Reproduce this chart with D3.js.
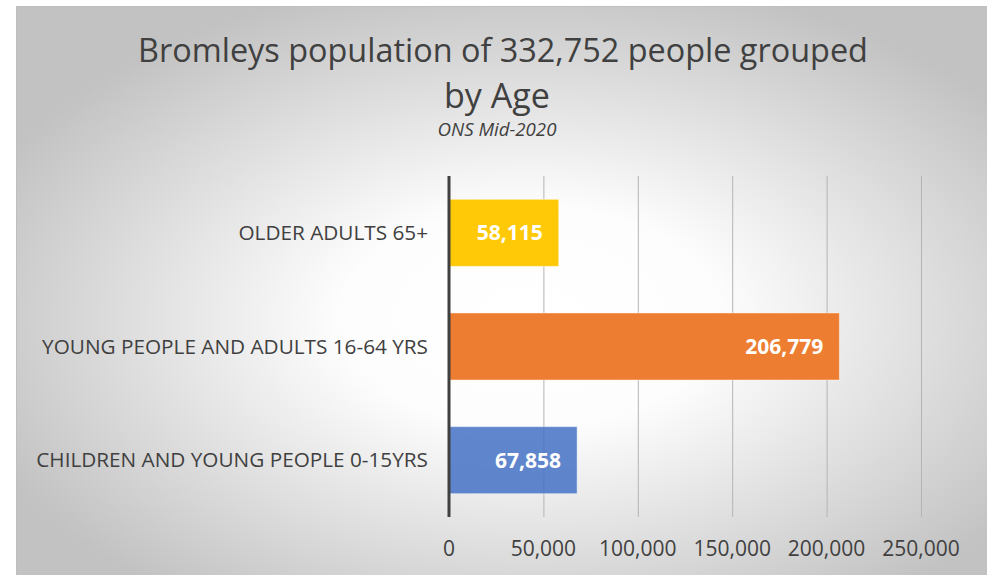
<!DOCTYPE html>
<html>
<head>
<meta charset="utf-8">
<script src="https://cdn.jsdelivr.net/npm/d3@7"></script>
<style>
  body { margin: 0; background: #fff; }
  text { font-family: "Open Sans", "Noto Sans", sans-serif; }
</style>
</head>
<body>
<div id="chart"></div>
<script>
const categories = ["OLDER ADULTS 65+", "YOUNG PEOPLE AND ADULTS 16-64 YRS", "CHILDREN AND YOUNG PEOPLE 0-15YRS"];
const values = [58115, 206779, 67858];
const colors = ["#FFC907", "#ED7D31", "#4472C4"];
const tickValues = [0, 50000, 100000, 150000, 200000, 250000];

const W = 987, H = 575;
const margin = { top: 176, right: 66, bottom: 58, left: 449 },
      width = W - margin.left - margin.right,
      height = H - margin.top - margin.bottom;

const root = d3.select("#chart")
    .append("svg")
    .attr("width", W)
    .attr("height", H);

// fond dégradé radial
const grad = root.append("defs").append("radialGradient")
    .attr("id", "bg")
    .attr("cx", "52%").attr("cy", "54%").attr("r", "60%");
grad.append("stop").attr("offset", "0%").attr("stop-color", "#ffffff");
grad.append("stop").attr("offset", "32%").attr("stop-color", "#fdfdfd");
grad.append("stop").attr("offset", "100%").attr("stop-color", "#c2c2c2");

root.append("rect")
    .attr("x", 16.5).attr("y", 6.5)
    .attr("width", W).attr("height", H)
    .attr("fill", "url(#bg)")
    .attr("stroke", "#bfbfbf");

// ajuste la taille de police pour une largeur donnée
function fit(sel, target) {
    const fs = parseFloat(sel.style("font-size"));
    const w = sel.node().getComputedTextLength();
    sel.style("font-size", (fs * target / w) + "px");
}

root.append("text")
    .attr("x", 503).attr("y", 62)
    .attr("text-anchor", "middle")
    .style("font-size", "30px")
    .attr("fill", "#404040")
    .text("Bromleys population of 332,752 people grouped")
    .call(fit, 730);

root.append("text")
    .attr("x", 497).attr("y", 108)
    .attr("text-anchor", "middle")
    .style("font-size", "30px")
    .attr("fill", "#404040")
    .text("by Age")
    .call(fit, 106);

root.append("text")
    .attr("x", 497).attr("y", 136)
    .attr("text-anchor", "middle")
    .style("font-size", "16px")
    .style("font-style", "italic")
    .attr("fill", "#404040")
    .text("ONS Mid-2020")
    .call(fit, 119);

const svg = root.append("g")
    .attr("transform", `translate(${margin.left},${margin.top})`);

const x = d3.scaleLinear()
    .domain([0, 250000])
    .range([0, 472]);

const y = d3.scaleBand()
    .domain(categories)
    .range([0, height])
    .paddingInner(0.41)
    .paddingOuter(0.205);

// grille verticale
svg.selectAll(".grid")
    .data(tickValues.slice(1))
    .enter()
    .append("line")
    .attr("x1", d => x(d) + 0.5).attr("x2", d => x(d) + 0.5)
    .attr("y1", 0).attr("y2", height)
    .attr("stroke", "#b4b4b4")
    .attr("stroke-width", 1);

svg.selectAll(".bar")
    .data(categories)
    .enter()
    .append("rect")
    .attr("class", "bar")
    .attr("x", x(0))
    .attr("y", d => y(d))
    .attr("width", (d, i) => x(values[i]) - x(0))
    .attr("height", y.bandwidth())
    .attr("fill", (d, i) => colors[i])
    .attr("fill-opacity", (d, i) => i === 2 ? 0.85 : 1)
    .attr("stroke", "rgba(255,255,255,0.45)")
    .attr("stroke-width", 1);

svg.selectAll(".val")
    .data(categories)
    .enter()
    .append("text")
    .attr("x", (d, i) => x(values[i]) - 16)
    .attr("y", d => y(d) + y.bandwidth() / 2)
    .attr("dy", "0.35em")
    .attr("text-anchor", "end")
    .attr("fill", "#fff")
    .style("font-size", "21px")
    .style("font-weight", "bold")
    .text((d, i) => d3.format(",")(values[i]));

// axe vertical (zéro)
svg.append("line")
    .attr("x1", x(0)).attr("x2", x(0))
    .attr("y1", 0).attr("y2", height)
    .attr("stroke", "#404040")
    .attr("stroke-width", 3);

// libellés des catégories
const cats = svg.selectAll(".cat")
    .data(categories)
    .enter()
    .append("text")
    .attr("x", -21)
    .attr("y", d => y(d) + y.bandwidth() / 2)
    .attr("dy", "0.35em")
    .attr("text-anchor", "end")
    .attr("fill", "#404040")
    .style("font-size", "16px")
    .text(d => d);
const k = 392 / cats.filter((d, i) => i === 2).node().getComputedTextLength();
cats.style("font-size", (16 * k) + "px");

// graduations
svg.selectAll(".tick")
    .data(tickValues)
    .enter()
    .append("text")
    .attr("x", d => x(d))
    .attr("y", height + 39)
    .attr("text-anchor", "middle")
    .attr("fill", "#404040")
    .style("font-size", "21px")
    .text(d => d3.format(",")(d));
</script>
</body>
</html>
